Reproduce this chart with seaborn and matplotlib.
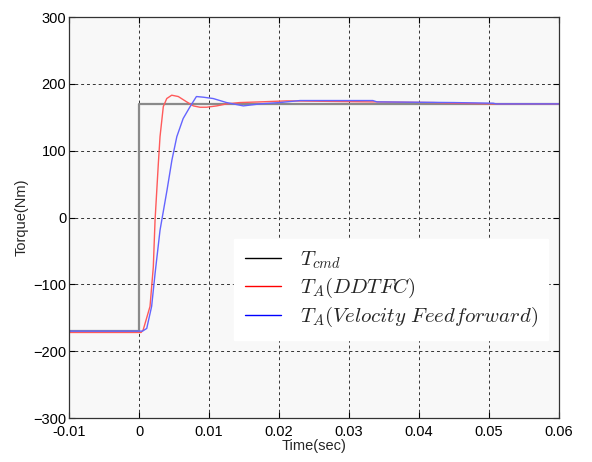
import numpy as np
import pandas as pd
import matplotlib
matplotlib.use("Agg")
import matplotlib.pyplot as plt
import seaborn as sns
from matplotlib.lines import Line2D

# ---- data ----
t_cmd = [-0.01, 0.0, 0.0, 0.06]
v_cmd = [-170, -170, 170, 170]

t_ddtfc = [-0.01, 0.0003, 0.0006, 0.00157, 0.00204, 0.00229, 0.00276, 0.0030, 0.00347,
           0.00396, 0.00467, 0.00561, 0.00681, 0.00776, 0.0087, 0.00967, 0.0111, 0.0125,
           0.0144, 0.0173, 0.0211, 0.0334, 0.042, 0.0454, 0.0506, 0.06]
v_ddtfc = [-172, -172, -168, -133, -74, -4, 81, 121, 166,
           178, 183, 181, 173, 167, 165, 165, 167, 170,
           172, 173, 174.5, 173, 172, 171, 170, 170]

t_vff = [-0.01, 0.0005, 0.0011, 0.0018, 0.0023, 0.0030, 0.0040, 0.0047, 0.0054, 0.0063,
         0.0073, 0.0082, 0.0092, 0.0106, 0.0125, 0.0149, 0.0173, 0.0201, 0.0230,
         0.0334, 0.0340, 0.0449, 0.0506, 0.0510, 0.06]
v_vff = [-170, -170, -166, -133, -83, -19, 41, 86, 121, 148,
         166, 181, 180, 178, 172, 167, 170, 172, 175,
         175, 173, 172, 171, 170, 170]

labels = [r'$T_{cmd}$', r'$T_A(DDTFC)$', r'$T_A(Velocity\ Feedforward)$']
x_ticks = [-0.01, 0, 0.01, 0.02, 0.03, 0.04, 0.05, 0.06]
x_ticklabels = ['-0.01', '0', '0.01', '0.02', '0.03', '0.04', '0.05', '0.06']
y_ticks = [-300, -200, -100, 0, 100, 200, 300]

sns.set_style("white")
plt.rcParams['font.family'] = ['Liberation Sans', 'DejaVu Sans']
plt.rcParams['mathtext.fontset'] = 'cm'

fig = plt.figure(figsize=(5.92, 4.62), dpi=100)
ax = fig.add_axes([0.1166, 0.0952, 0.8277, 0.868])
ax.set_facecolor('#f8f8f8')

df_cmd = pd.DataFrame({'t': t_cmd, 'v': v_cmd})
df_r = pd.DataFrame({'t': t_ddtfc, 'v': v_ddtfc})
df_b = pd.DataFrame({'t': t_vff, 'v': v_vff})

sns.lineplot(data=df_cmd, x='t', y='v', ax=ax, color='#8a8a8a', lw=1.6, sort=False, estimator=None)
sns.lineplot(data=df_r, x='t', y='v', ax=ax, color='#ff5a5a', lw=1.0, sort=False, estimator=None)
sns.lineplot(data=df_b, x='t', y='v', ax=ax, color='#6464ff', lw=1.0, sort=False, estimator=None)

ax.set_xlim(-0.01, 0.06)
ax.set_ylim(-300, 300)
ax.set_xticks(x_ticks)
ax.set_xticklabels(x_ticklabels)
ax.set_yticks(y_ticks)
ax.tick_params(direction='in', length=4, labelsize=10.5, top=True, right=True,
               bottom=True, left=True, colors='black', width=0.8, pad=2)
ax.tick_params(axis='x', pad=5)
ax.grid(True, color='#333333', linestyle=(0, (3, 3)), linewidth=0.7)
ax.set_axisbelow(True)
for s in ax.spines.values():
    s.set_color('#333333')
    s.set_linewidth(0.9)
ax.set_xlabel('Time(sec)', fontsize=10.5, labelpad=0)
ax.set_ylabel('Torque(Nm)', fontsize=10.5, labelpad=3)

handles = [Line2D([], [], color='black', lw=1),
           Line2D([], [], color='red', lw=1),
           Line2D([], [], color='blue', lw=1)]
leg = ax.legend(handles, labels, loc='upper left', bbox_to_anchor=(0.337, 0.447),
                fontsize=15, frameon=True, fancybox=False, framealpha=1,
                edgecolor='white', facecolor='white', handlelength=1.75,
                handletextpad=0.9, labelspacing=0.25, borderpad=0.5,
                borderaxespad=0.0)

fig.savefig('out.png', dpi=100)
